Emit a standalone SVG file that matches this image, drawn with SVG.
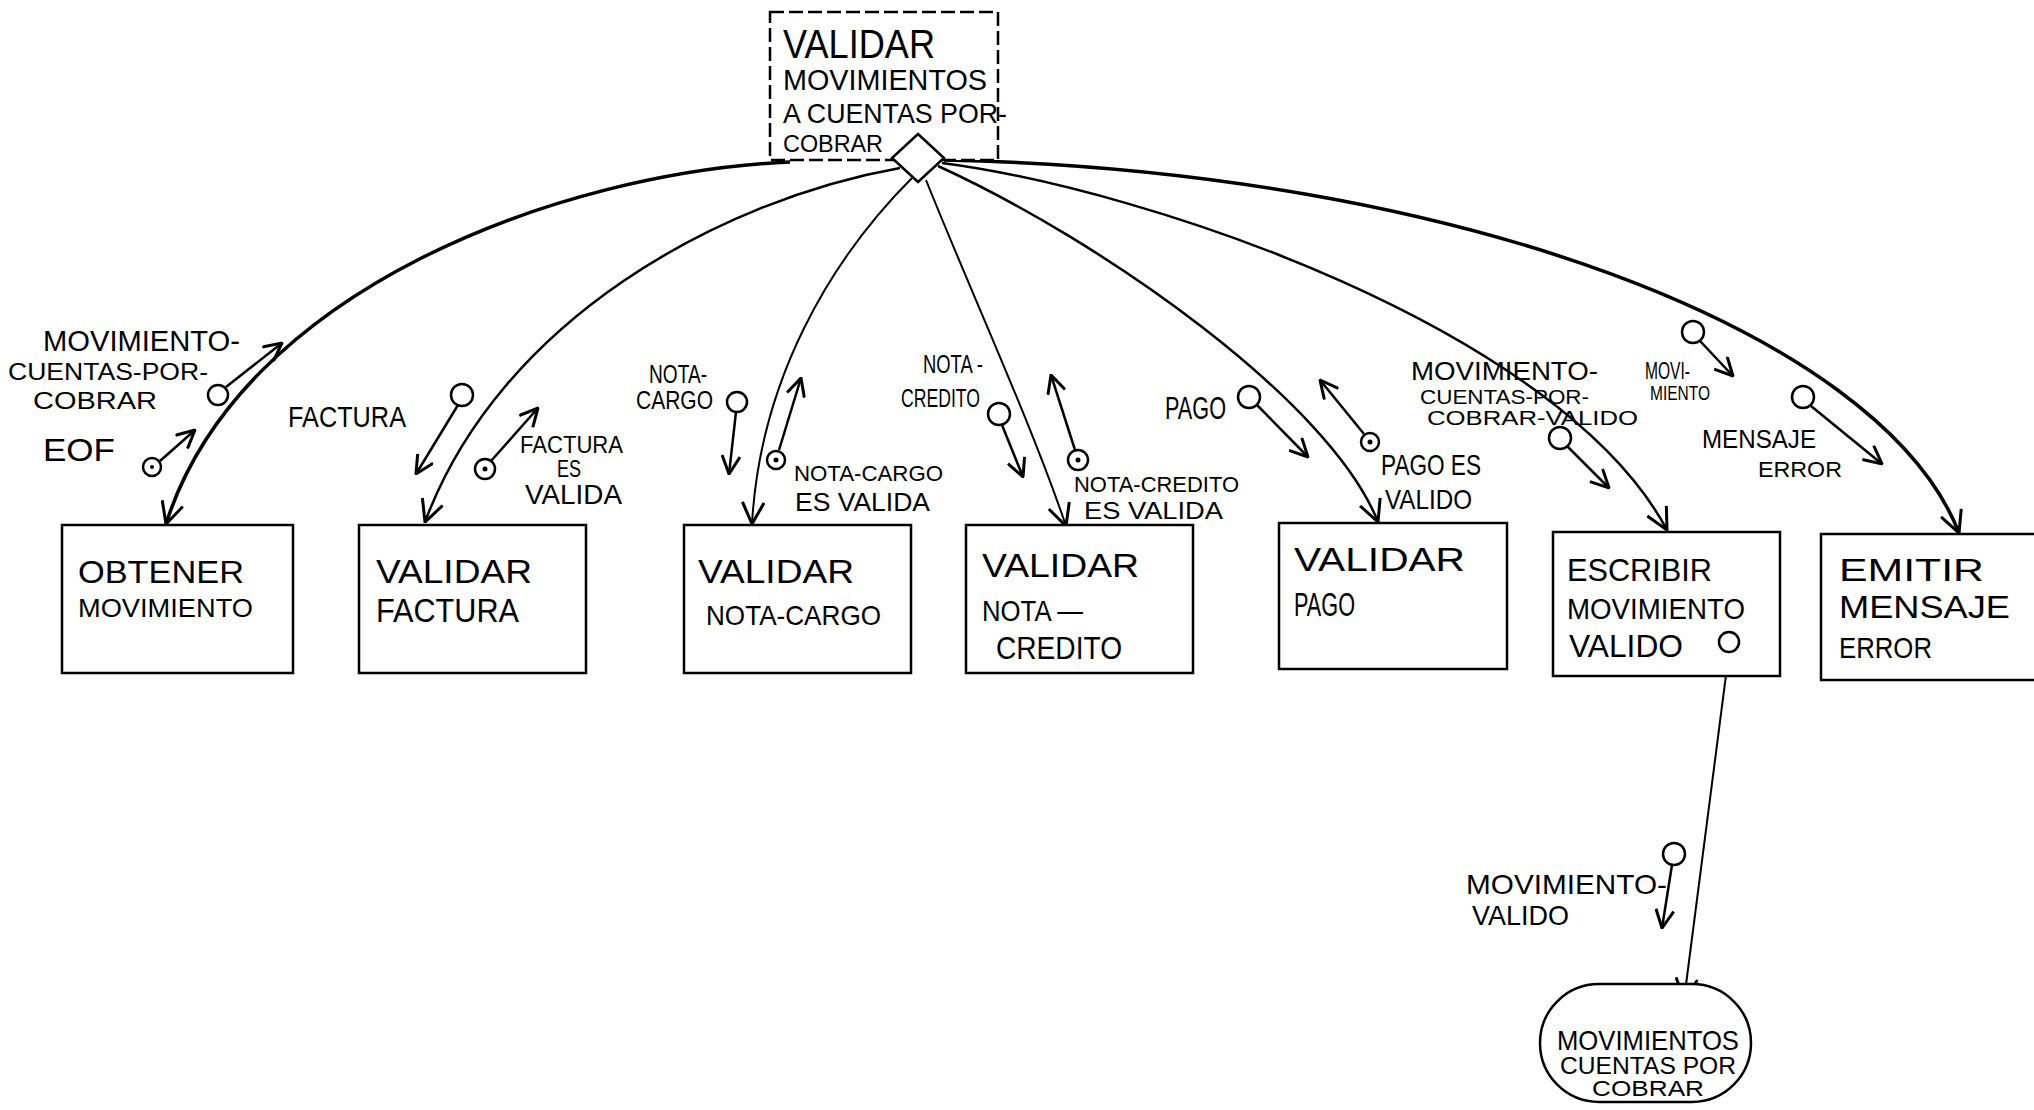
<svg xmlns="http://www.w3.org/2000/svg" width="2034" height="1110" viewBox="0 0 2034 1110">
  <style>
    .box { fill: #fff; stroke: #000; stroke-width: 2.5; }
    .dash { stroke-dasharray: 14 5; }
    .t { font-family: "Liberation Sans", Arial, sans-serif; fill: #000; }
    .call { fill: none; stroke: #000; stroke-width: 2.5; marker-end: url(#vhead); }
    .bold { stroke-width: 3.5; }
    .thin { stroke-width: 2; }
    .cpl { fill: none; stroke: #000; stroke-width: 2.5; marker-end: url(#chead); }
    .ring { fill: #fff; stroke: #000; stroke-width: 2.5; }
    .dot { fill: #000; }
  </style>
  <defs>
    <marker id="vhead" viewBox="0 0 20 20" refX="19" refY="10" markerWidth="24" markerHeight="24" orient="auto" markerUnits="userSpaceOnUse">
      <path d="M1,1 L19,10 L1,19" fill="none" stroke="#000" stroke-width="2.5"/>
    </marker>
    <marker id="chead" viewBox="0 0 20 20" refX="19" refY="10" markerWidth="20" markerHeight="20" orient="auto" markerUnits="userSpaceOnUse">
      <path d="M1,1 L19,10 L1,19" fill="none" stroke="#000" stroke-width="3"/>
    </marker>
  </defs>

  <rect width="2034" height="1110" fill="#fff"/>

  <!-- calls from the top module to its subordinates -->
  <g id="connectors">
    <path class="call bold" d="M790,162 C560,172 240,290 166,524"/>
    <path class="call" d="M900,168 C720,200 500,320 425,522"/>
    <path class="call thin" d="M912,178 C830,260 760,380 752,524"/>
    <path class="call thin" d="M926,180 C970,290 1030,420 1066,526"/>
    <path class="call" d="M938,166 C1100,240 1330,400 1378,522"/>
    <path class="call" d="M942,163 C1150,190 1560,330 1667,530"/>
    <path class="call bold" d="M944,160 C1450,170 1880,330 1959,533"/>
    <path class="call thin" d="M1729,652 L1684,1000"/>
  </g>

  <!-- top module -->
  <g id="validar-movimientos">
    <rect class="box dash" x="770" y="12" width="228" height="148"/>
    <text class="t" x="783" y="58" font-size="40" textLength="152" lengthAdjust="spacingAndGlyphs">VALIDAR</text>
    <text class="t" x="783" y="90" font-size="30" textLength="204" lengthAdjust="spacingAndGlyphs">MOVIMIENTOS</text>
    <text class="t" x="783" y="123" font-size="28" textLength="224" lengthAdjust="spacingAndGlyphs">A CUENTAS POR-</text>
    <text class="t" x="783" y="152" font-size="24" textLength="100" lengthAdjust="spacingAndGlyphs">COBRAR</text>
    <path d="M918,134 L944,158 L918,182 L892,158 Z" fill="#fff" stroke="#000" stroke-width="2.5"/>
  </g>

  <g id="obtener-movimiento">
    <rect class="box" x="62" y="525" width="231" height="148"/>
    <text class="t" x="78" y="583" font-size="32" textLength="166" lengthAdjust="spacingAndGlyphs">OBTENER</text>
    <text class="t" x="78" y="617" font-size="26" textLength="175" lengthAdjust="spacingAndGlyphs">MOVIMIENTO</text>
  </g>

  <g id="validar-factura">
    <rect class="box" x="359" y="525" width="227" height="148"/>
    <text class="t" x="376" y="583" font-size="34" textLength="156" lengthAdjust="spacingAndGlyphs">VALIDAR</text>
    <text class="t" x="376" y="622" font-size="34" textLength="143" lengthAdjust="spacingAndGlyphs">FACTURA</text>
  </g>

  <g id="validar-nota-cargo">
    <rect class="box" x="684" y="525" width="227" height="148"/>
    <text class="t" x="698" y="583" font-size="34" textLength="156" lengthAdjust="spacingAndGlyphs">VALIDAR</text>
    <text class="t" x="706" y="625" font-size="28" textLength="175" lengthAdjust="spacingAndGlyphs">NOTA-CARGO</text>
  </g>

  <g id="validar-nota-credito">
    <rect class="box" x="966" y="525" width="227" height="148"/>
    <text class="t" x="982" y="577" font-size="34" textLength="157" lengthAdjust="spacingAndGlyphs">VALIDAR</text>
    <text class="t" x="982" y="621" font-size="30" textLength="101" lengthAdjust="spacingAndGlyphs">NOTA —</text>
    <text class="t" x="996" y="659" font-size="32" textLength="126" lengthAdjust="spacingAndGlyphs">CREDITO</text>
  </g>

  <g id="validar-pago">
    <rect class="box" x="1279" y="523" width="228" height="146"/>
    <text class="t" x="1294" y="571" font-size="34" textLength="171" lengthAdjust="spacingAndGlyphs">VALIDAR</text>
    <text class="t" x="1294" y="616" font-size="34" textLength="61" lengthAdjust="spacingAndGlyphs">PAGO</text>
  </g>

  <g id="escribir-movimiento-valido">
    <rect class="box" x="1553" y="532" width="227" height="144"/>
    <text class="t" x="1567" y="581" font-size="32" textLength="145" lengthAdjust="spacingAndGlyphs">ESCRIBIR</text>
    <text class="t" x="1567" y="619" font-size="30" textLength="178" lengthAdjust="spacingAndGlyphs">MOVIMIENTO</text>
    <text class="t" x="1569" y="657" font-size="32" textLength="114" lengthAdjust="spacingAndGlyphs">VALIDO</text>
    <circle class="ring" cx="1729" cy="642" r="10"/>
  </g>

  <g id="emitir-mensaje-error">
    <rect class="box" x="1821" y="534" width="240" height="146"/>
    <text class="t" x="1839" y="581" font-size="32" textLength="145" lengthAdjust="spacingAndGlyphs">EMITIR</text>
    <text class="t" x="1839" y="618" font-size="32" textLength="171" lengthAdjust="spacingAndGlyphs">MENSAJE</text>
    <text class="t" x="1839" y="658" font-size="30" textLength="93" lengthAdjust="spacingAndGlyphs">ERROR</text>
  </g>

  <g id="movimientos-cuentas-por-cobrar">
    <rect class="box" x="1540" y="984" width="211" height="118" rx="59" ry="59"/>
    <text class="t" x="1557" y="1050" font-size="28" textLength="182" lengthAdjust="spacingAndGlyphs">MOVIMIENTOS</text>
    <text class="t" x="1560" y="1074" font-size="24" textLength="176" lengthAdjust="spacingAndGlyphs">CUENTAS POR</text>
    <text class="t" x="1592" y="1096" font-size="22" textLength="112" lengthAdjust="spacingAndGlyphs">COBRAR</text>
  </g>

  <!-- data and flag couples along the calls -->
  <g id="couples">
    <g id="c-movimiento-cxc">
      <path class="cpl" d="M226,387 L282,343"/>
      <circle class="ring" cx="218" cy="395" r="10"/>
      <text class="t" x="43" y="351" font-size="30" textLength="197" lengthAdjust="spacingAndGlyphs">MOVIMIENTO-</text>
      <text class="t" x="8" y="380" font-size="24" textLength="200" lengthAdjust="spacingAndGlyphs">CUENTAS-POR-</text>
      <text class="t" x="33" y="409" font-size="24" textLength="124" lengthAdjust="spacingAndGlyphs">COBRAR</text>
    </g>
    <g id="c-eof">
      <path class="cpl" d="M160,461 L195,430"/>
      <circle class="ring" cx="152" cy="467" r="9"/>
      <circle class="dot" cx="152" cy="467" r="2"/>
      <text class="t" x="43" y="461" font-size="32" textLength="72" lengthAdjust="spacingAndGlyphs">EOF</text>
    </g>
    <g id="c-factura">
      <path class="cpl" d="M458,405 L416,474"/>
      <circle class="ring" cx="462" cy="395" r="11"/>
      <text class="t" x="288" y="427" font-size="30" textLength="118" lengthAdjust="spacingAndGlyphs">FACTURA</text>
    </g>
    <g id="c-factura-valida">
      <path class="cpl" d="M491,461 L538,408"/>
      <circle class="ring" cx="485" cy="469" r="10"/>
      <circle class="dot" cx="485" cy="469" r="2.5"/>
      <text class="t" x="520" y="453" font-size="24" textLength="103" lengthAdjust="spacingAndGlyphs">FACTURA</text>
      <text class="t" x="557" y="477" font-size="24" textLength="24" lengthAdjust="spacingAndGlyphs">ES</text>
      <text class="t" x="525" y="504" font-size="28" textLength="97" lengthAdjust="spacingAndGlyphs">VALIDA</text>
    </g>
    <g id="c-nota-cargo">
      <path class="cpl" d="M736,412 L729,474"/>
      <circle class="ring" cx="737" cy="402" r="10"/>
      <text class="t" x="649" y="383" font-size="26" textLength="58" lengthAdjust="spacingAndGlyphs">NOTA-</text>
      <text class="t" x="636" y="409" font-size="26" textLength="77" lengthAdjust="spacingAndGlyphs">CARGO</text>
    </g>
    <g id="c-nota-cargo-valida">
      <path class="cpl" d="M779,450 L801,378"/>
      <circle class="ring" cx="776" cy="460" r="9"/>
      <circle class="dot" cx="776" cy="460" r="2.5"/>
      <text class="t" x="794" y="481" font-size="22" textLength="149" lengthAdjust="spacingAndGlyphs">NOTA-CARGO</text>
      <text class="t" x="795" y="511" font-size="26" textLength="135" lengthAdjust="spacingAndGlyphs">ES VALIDA</text>
    </g>
    <g id="c-nota-credito">
      <path class="cpl" d="M1002,425 L1023,477"/>
      <circle class="ring" cx="999" cy="414" r="11"/>
      <text class="t" x="923" y="373" font-size="26" textLength="60" lengthAdjust="spacingAndGlyphs">NOTA -</text>
      <text class="t" x="901" y="407" font-size="26" textLength="79" lengthAdjust="spacingAndGlyphs">CREDITO</text>
    </g>
    <g id="c-nota-credito-valida">
      <path class="cpl" d="M1075,450 L1051,375"/>
      <circle class="ring" cx="1078" cy="460" r="10"/>
      <circle class="dot" cx="1078" cy="460" r="2.5"/>
      <text class="t" x="1074" y="492" font-size="22" textLength="165" lengthAdjust="spacingAndGlyphs">NOTA-CREDITO</text>
      <text class="t" x="1084" y="519" font-size="24" textLength="139" lengthAdjust="spacingAndGlyphs">ES VALIDA</text>
    </g>
    <g id="c-pago">
      <path class="cpl" d="M1257,405 L1308,457"/>
      <circle class="ring" cx="1249" cy="397" r="11"/>
      <text class="t" x="1165" y="419" font-size="32" textLength="61" lengthAdjust="spacingAndGlyphs">PAGO</text>
    </g>
    <g id="c-pago-valido">
      <path class="cpl" d="M1364,434 L1320,380"/>
      <circle class="ring" cx="1370" cy="442" r="9"/>
      <circle class="dot" cx="1370" cy="442" r="2.5"/>
      <text class="t" x="1381" y="475" font-size="30" textLength="100" lengthAdjust="spacingAndGlyphs">PAGO ES</text>
      <text class="t" x="1385" y="509" font-size="28" textLength="87" lengthAdjust="spacingAndGlyphs">VALIDO</text>
    </g>
    <g id="c-movimiento-cxc-valido">
      <path class="cpl" d="M1567,446 L1609,488"/>
      <circle class="ring" cx="1560" cy="438" r="11"/>
      <text class="t" x="1411" y="380" font-size="26" textLength="187" lengthAdjust="spacingAndGlyphs">MOVIMIENTO-</text>
      <text class="t" x="1420" y="404" font-size="20" textLength="169" lengthAdjust="spacingAndGlyphs">CUENTAS-POR-</text>
      <text class="t" x="1427" y="425" font-size="20" textLength="211" lengthAdjust="spacingAndGlyphs">COBRAR-VALIDO</text>
    </g>
    <g id="c-movimiento">
      <path class="cpl" d="M1700,341 L1733,376"/>
      <circle class="ring" cx="1693" cy="332" r="11"/>
      <text class="t" x="1645" y="379" font-size="24" textLength="45" lengthAdjust="spacingAndGlyphs">MOVI-</text>
      <text class="t" x="1650" y="400" font-size="20" textLength="60" lengthAdjust="spacingAndGlyphs">MIENTO</text>
    </g>
    <g id="c-mensaje-error">
      <path class="cpl" d="M1811,406 L1882,464"/>
      <circle class="ring" cx="1803" cy="397" r="11"/>
      <text class="t" x="1702" y="448" font-size="26" textLength="114" lengthAdjust="spacingAndGlyphs">MENSAJE</text>
      <text class="t" x="1758" y="477" font-size="22" textLength="84" lengthAdjust="spacingAndGlyphs">ERROR</text>
    </g>
    <g id="c-movimiento-valido">
      <path class="cpl" d="M1672,865 L1662,928"/>
      <circle class="ring" cx="1674" cy="854" r="11"/>
      <text class="t" x="1466" y="894" font-size="28" textLength="201" lengthAdjust="spacingAndGlyphs">MOVIMIENTO-</text>
      <text class="t" x="1472" y="925" font-size="28" textLength="97" lengthAdjust="spacingAndGlyphs">VALIDO</text>
    </g>
  </g>
</svg>
